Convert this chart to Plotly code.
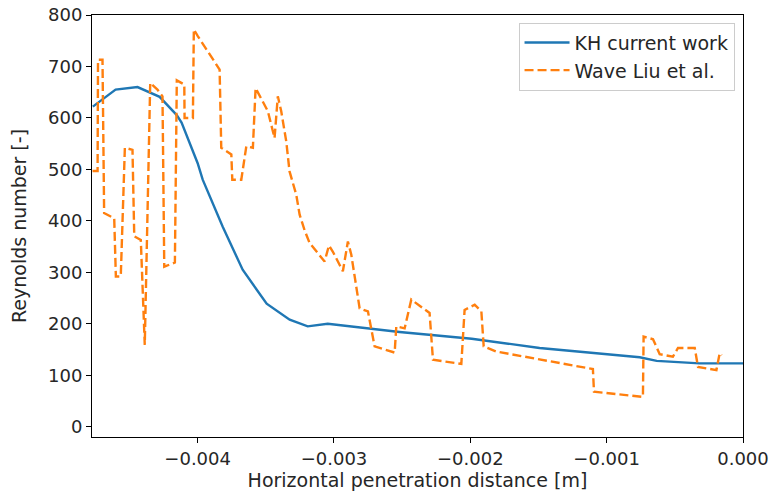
import plotly.graph_objects as go

# KH model prediction (current work)
kh_x = [-0.004769, -0.004602, -0.004441, -0.004279, -0.004155, -0.004118, -0.004000,
        -0.003963, -0.003817, -0.003670, -0.003494, -0.003325, -0.003193, -0.003046,
        -0.002519, -0.001990, -0.001492, -0.000993, -0.000758, -0.000633, -0.000318, 0.0]
kh_re = [622, 655, 660, 641, 606, 591, 512, 480, 389, 305, 239, 208, 195, 200,
         184, 171, 153, 141, 135, 128, 123, 123]

# Wave model data (Liu et al.)
liu_x = [-0.004771, -0.004734, -0.004731, -0.004698, -0.004686, -0.004612, -0.004600,
         -0.004564, -0.004534, -0.004478, -0.004465, -0.004417, -0.004388, -0.004348,
         -0.004295, -0.004258, -0.004245, -0.004167, -0.004153, -0.004098, -0.004096,
         -0.004035, -0.004028, -0.003999, -0.003839, -0.003827, -0.003753, -0.003746,
         -0.003680, -0.003643, -0.003595, -0.003575, -0.003485, -0.003436, -0.003412,
         -0.003387, -0.003350, -0.003326, -0.003277, -0.003252, -0.003216, -0.003179,
         -0.003069, -0.003037, -0.003008, -0.002935, -0.002898, -0.002873, -0.002812,
         -0.002751, -0.002702, -0.002555, -0.002543, -0.002482, -0.002433, -0.002299,
         -0.002274, -0.002066, -0.002042, -0.001968, -0.001919, -0.001902, -0.001809,
         -0.001101, -0.001093, -0.000734, -0.000729, -0.000660, -0.000611, -0.000514,
         -0.000477, -0.000354, -0.000330, -0.000195, -0.000171, -0.000156]
liu_re = [497, 497, 713, 713, 415, 405, 292, 292, 542, 538, 370, 363, 159, 668,
          655, 642, 311, 319, 673, 665, 600, 600, 772, 759, 694, 542, 529, 480,
          480, 545, 542, 658, 613, 561, 642, 613, 554, 496, 451, 412, 382, 357,
          321, 352, 340, 302, 360, 334, 230, 224, 156, 144, 195, 191, 247, 221,
          130, 122, 227, 237, 224, 156, 146, 112, 68, 58, 175, 170, 141, 136,
          153, 153, 116, 110, 143, 139]

x_ticks = [-0.004, -0.003, -0.002, -0.001, 0.0]
y_ticks = [0, 100, 200, 300, 400, 500, 600, 700, 800]

tick_font = dict(family="DejaVu Sans", size=18, color="#262626")
label_font = dict(family="DejaVu Sans", size=19, color="#262626")

fig = go.Figure()
fig.add_trace(go.Scatter(
    x=kh_x, y=kh_re, mode="lines", name="KH current work",
    line=dict(color="#1f77b4", width=2.4), legendgroup="a"))
fig.add_trace(go.Scatter(
    x=liu_x, y=liu_re, mode="lines", name="Wave Liu et al.",
    line=dict(color="#ff7f0e", width=2.4, dash="9px,4px"), legendgroup="b"))

axis_common = dict(
    showline=True, linecolor="black", linewidth=1, mirror=True,
    showgrid=False, zeroline=False, ticks="outside", ticklen=5,
    tickcolor="black", tickwidth=1, tickfont=tick_font, automargin=False)

fig.update_xaxes(
    range=[-0.004775, 0.0], tickvals=x_ticks, tickformat=".3f",
    ticklabelstandoff=0,
    title=dict(text="Horizontal penetration distance [m]", font=label_font, standoff=4),
    **axis_common)
fig.update_yaxes(
    range=[-20, 800], tickvals=y_ticks,
    title=dict(text="Reynolds number [-]", font=label_font, standoff=16),
    **axis_common)

fig.update_layout(
    width=770, height=497,
    margin=dict(l=92, r=27, t=15, b=60),
    plot_bgcolor="white", paper_bgcolor="white",
    font=tick_font,
    legend=dict(
        x=0.987, y=0.982, xanchor="right", yanchor="top",
        bgcolor="rgba(255,255,255,0.8)", bordercolor="#cccccc", borderwidth=1,
        font=label_font, tracegroupgap=0, itemwidth=45),
    showlegend=True,
)

fig.write_html("out.html")
